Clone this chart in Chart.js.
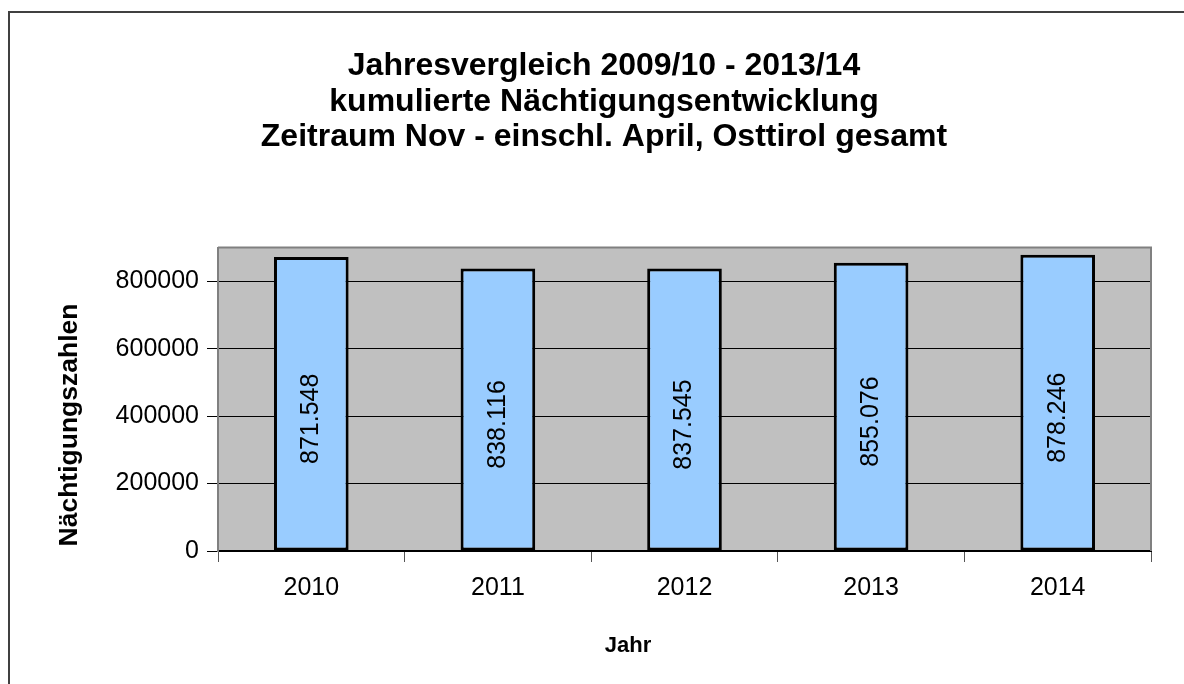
<!DOCTYPE html>
<html>
<head>
<meta charset="utf-8">
<script src="https://cdn.jsdelivr.net/npm/chart.js@4.4.0/dist/chart.umd.min.js"></script>
<style>
    body { margin: 0; background: #fff; }
    #wrap { width: 1184px; height: 684px; }
</style>
</head>
<body>
<div id="wrap"><canvas id="chart" width="1184" height="684"></canvas></div>
<script>
// Data
const years = ['2010', '2011', '2012', '2013', '2014'];
const overnightStays = [871548, 838116, 837545, 855076, 878246];
const yTicks = [0, 200000, 400000, 600000, 800000];

const titleLines = [
    'Jahresvergleich 2009/10 - 2013/14',
    'kumulierte Nächtigungsentwicklung',
    'Zeitraum Nov - einschl. April, Osttirol gesamt'
];
const yTitle = 'Nächtigungszahlen';
const xTitle = 'Jahr';

const FONT = "'Liberation Sans', Arial, sans-serif";

// 871548 -> "871.548"
function formatDE(v) {
    return String(v).replace(/\B(?=(\d{3})+(?!\d))/g, '.');
}

// Outer frame + grey plot background
const backgroundPlugin = {
    id: 'background',
    beforeDraw(chart) {
        const ctx = chart.ctx;
        const a = chart.chartArea;
        ctx.save();
        ctx.fillStyle = '#fff';
        ctx.fillRect(0, 0, chart.width, chart.height);
        ctx.strokeStyle = '#404040';
        ctx.lineWidth = 2;
        ctx.beginPath();
        ctx.moveTo(9, chart.height);
        ctx.lineTo(9, 12);
        ctx.lineTo(chart.width, 12);
        ctx.stroke();
        ctx.fillStyle = '#C0C0C0';
        ctx.fillRect(a.left, a.top, a.right - a.left, a.bottom - a.top);
        ctx.restore();
    },
    afterDraw(chart) {
        const ctx = chart.ctx;
        const a = chart.chartArea;
        ctx.save();
        ctx.strokeStyle = '#808080';
        ctx.lineWidth = 2;
        ctx.beginPath();
        ctx.moveTo(a.left, a.top);
        ctx.lineTo(a.right, a.top);
        ctx.lineTo(a.right, a.bottom);
        ctx.stroke();
        ctx.restore();
    }
};

// Rotated value labels inside the bars
const valueLabelPlugin = {
    id: 'valueLabels',
    afterDatasetsDraw(chart) {
        const ctx = chart.ctx;
        const meta = chart.getDatasetMeta(0);
        ctx.save();
        ctx.fillStyle = '#000';
        ctx.font = '25px ' + FONT;
        ctx.textAlign = 'center';
        ctx.textBaseline = 'middle';
        meta.data.forEach((bar, i) => {
            const cy = (bar.y + bar.base) / 2 + 15;
            ctx.save();
            ctx.translate(bar.x, cy);
            ctx.rotate(-Math.PI / 2);
            ctx.fillText(formatDE(overnightStays[i]), 0, 0);
            ctx.restore();
        });
        ctx.restore();
    }
};

// Axis titles, placed where the reference has them
const axisTitlePlugin = {
    id: 'axisTitles',
    afterDraw(chart) {
        const ctx = chart.ctx;
        ctx.save();
        ctx.fillStyle = '#000';
        ctx.textAlign = 'center';
        ctx.textBaseline = 'middle';
        ctx.font = 'bold 26.5px ' + FONT;
        ctx.translate(70, 425);
        ctx.rotate(-Math.PI / 2);
        ctx.fillText(yTitle, 0, 0);
        ctx.restore();

        ctx.save();
        ctx.fillStyle = '#000';
        ctx.textAlign = 'center';
        ctx.textBaseline = 'middle';
        ctx.font = 'bold 22px ' + FONT;
        ctx.fillText(xTitle, 628, 646);
        ctx.restore();
    }
};

const ctx = document.getElementById('chart').getContext('2d');
new Chart(ctx, {
    type: 'bar',
    data: {
        labels: years,
        datasets: [{
            data: overnightStays,
            backgroundColor: '#99CCFF',
            borderColor: '#000',
            borderWidth: 3,
            borderSkipped: false,
            barPercentage: 0.4,
            categoryPercentage: 1.0
        }]
    },
    options: {
        responsive: false,
        animation: false,
        devicePixelRatio: 1,
        layout: {
            padding: { left: 57, right: 33, top: 0, bottom: 0 }
        },
        plugins: {
            legend: { display: false },
            tooltip: { enabled: false },
            title: {
                display: true,
                text: titleLines,
                color: '#000',
                font: { family: FONT, size: 32, weight: 'bold', lineHeight: 1.12 },
                padding: { top: 48, bottom: 92 }
            }
        },
        scales: {
            x: {
                grid: {
                    offset: true,
                    drawOnChartArea: false,
                    tickLength: 11,
                    color: '#555',
                    tickColor: '#555'
                },
                border: { color: '#000', width: 2 },
                ticks: {
                    color: '#000',
                    padding: 11,
                    font: { family: FONT, size: 25 }
                },
                afterFit(scale) { scale.height = 133; }
            },
            y: {
                min: 0,
                max: 900000,
                grid: {
                    color: '#000',
                    lineWidth: 1,
                    tickLength: 11,
                    tickColor: '#000'
                },
                border: { color: '#808080', width: 2 },
                ticks: {
                    color: '#000',
                    padding: 8,
                    font: { family: FONT, size: 25 },
                    callback: v => String(v)
                },
                afterBuildTicks(scale) {
                    scale.ticks = yTicks.map(v => ({ value: v }));
                },
                afterFit(scale) { scale.width = 218 - 57; }
            }
        }
    },
    plugins: [backgroundPlugin, valueLabelPlugin, axisTitlePlugin]
});
</script>
</body>
</html>
